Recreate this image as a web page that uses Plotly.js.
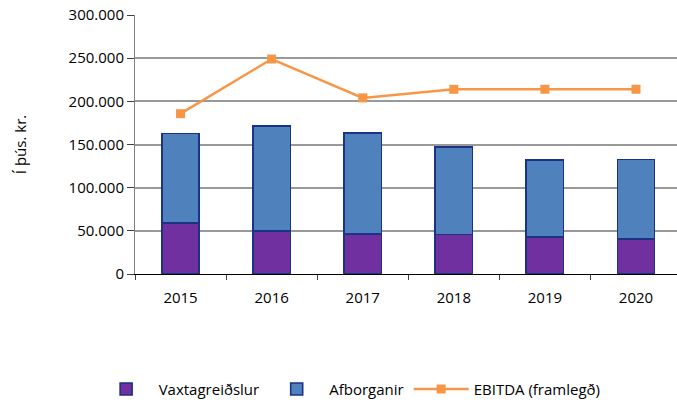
<!DOCTYPE html>
<html><head><meta charset="utf-8">
<script src="https://cdn.plot.ly/plotly-3.0.1.min.js"></script>
<style>body{margin:0}#c{width:677px;height:406px}</style></head>
<body><div id="c"></div>
<script>
const years = ['2015','2016','2017','2018','2019','2020'];
const vaxtagreidslur = [59000, 49800, 46000, 45600, 42900, 40300];
const afborganir = [103800, 121400, 117500, 101500, 89000, 92300];
const ebitda = [185700, 249000, 204000, 213900, 214000, 214000];
const yTicks = [0, 50000, 100000, 150000, 200000, 250000, 300000];

const font = {family: 'Open Sans, Liberation Sans, sans-serif', size: 15, color: '#000'};
const outline = {color: '#1A3384', width: 1.6};
const data = [
  {type: 'bar', name: 'Vaxtagreiðslur', x: years, y: vaxtagreidslur,
   marker: {color: '#7030A0', line: outline}, width: 0.41},
  {type: 'bar', name: 'Afborganir', x: years, y: afborganir,
   marker: {color: '#4F81BD', line: outline}, width: 0.41},
  {type: 'scatter', mode: 'lines+markers', name: 'EBITDA (framlegð)', x: years, y: ebitda,
   line: {color: '#F79646', width: 2.5}, marker: {symbol: 'square', size: 9, color: '#F79646'}}
];
const layout = {
  width: 677, height: 406, barmode: 'stack', separators: ',.',
  margin: {l: 135, r: 0, t: 15, b: 129},
  paper_bgcolor: '#fff', plot_bgcolor: '#fff', font: font,
  xaxis: {type: 'category', tickson: 'boundaries', ticks: 'outside', ticklen: 5,
    tickcolor: '#404040', showline: true, linecolor: '#000', linewidth: 1,
    showgrid: false, range: [-0.5, 5.45], tickfont: font, ticklabelstandoff: 10},
  yaxis: {range: [0, 300000], tickvals: yTicks, tickformat: ',d', ticks: 'outside', ticklen: 7,
    tickcolor: '#404040', showline: true, linecolor: '#808080', linewidth: 1,
    gridcolor: '#999999', gridwidth: 2, zeroline: false, tickfont: font,
    title: {text: 'Í þús. kr.', font: font, standoff: 38}},
  legend: {orientation: 'h', x: 0.396, xanchor: 'center', y: -0.445, yanchor: 'middle',
    font: font, traceorder: 'normal', itemwidth: 55},
  showlegend: true
};
Plotly.newPlot('c', data, layout, {displayModeBar: false});
</script></body></html>
